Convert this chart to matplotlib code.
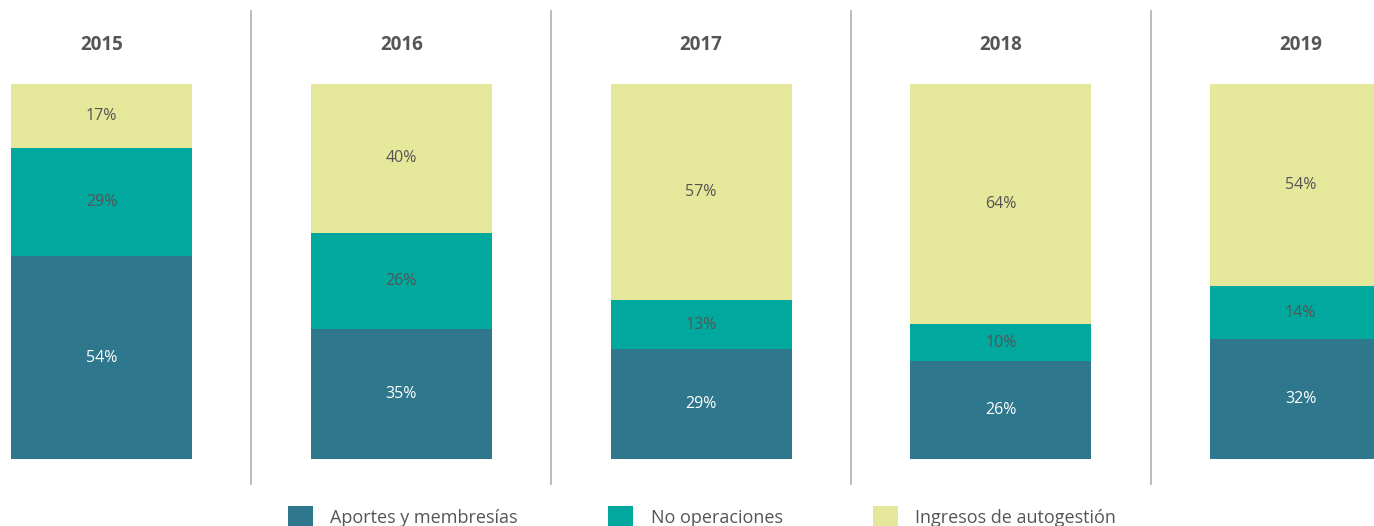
import matplotlib.pyplot as plt
import numpy as np
from matplotlib.patches import Patch

plt.rcParams['font.family'] = ['Open Sans', 'DejaVu Sans']

years = ['2015', '2016', '2017', '2018', '2019']
aportes = [54, 35, 29, 26, 32]
no_operaciones = [29, 26, 13, 10, 14]
autogestion = [17, 40, 57, 64, 54]
series_names = ['Aportes y membresías', 'No operaciones', 'Ingresos de autogestión']

colors = ['#2E778C', '#00A89D', '#E5E89A']
label_colors = ['white', '#555555', '#555555']

# each column is scaled to its own total so the tops line up
data = np.array([aportes, no_operaciones, autogestion], dtype=float)
shares = data / data.sum(axis=0)

fig = plt.figure(figsize=(13.74, 5.26), dpi=100)
ax = fig.add_axes([0, 0, 1, 1])

x = np.arange(len(years))
bottom = np.zeros(len(years))
for i in range(3):
    bars = ax.bar(x, shares[i], bottom=bottom, width=0.604, color=colors[i])
    for j, bar in enumerate(bars):
        ax.text(bar.get_x() + bar.get_width() / 2, bottom[j] + shares[i][j] / 2,
                f'{int(data[i][j])}%', ha='center', va='center',
                fontsize=11.5, color=label_colors[i])
    bottom += shares[i]

for j, year in enumerate(years):
    ax.text(j, 1.104, year, ha='center', va='center', fontsize=13.5,
            fontweight='bold', color='#555555')

for j in range(len(years) - 1):
    ax.plot([j + 0.5, j + 0.5], [-0.067, 1.195], color='#b5b5b5', lw=1.3)

ax.set_xlim(-0.3386, 4.245)
ax.set_ylim(-0.1787, 1.224)
ax.axis('off')

handles = [Patch(facecolor=c, edgecolor='none') for c in colors]
fig.legend(handles, series_names, loc='center', bbox_to_anchor=(0.511, 0.018),
           ncol=3, frameon=False, fontsize=13, labelcolor='#555555',
           handlelength=1.4, handleheight=1.4, handletextpad=0.95,
           columnspacing=5.0)

fig.savefig('out.png', dpi=100)
